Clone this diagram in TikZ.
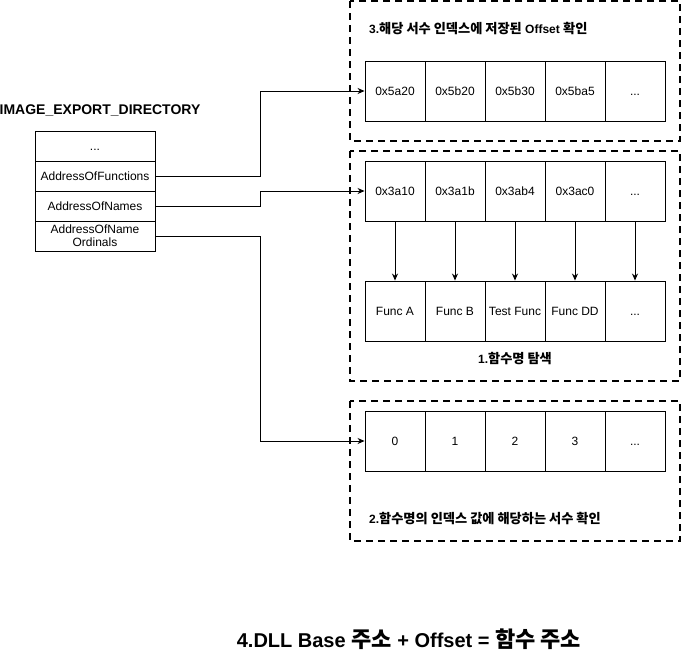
\documentclass[tikz,border=0pt]{standalone}
\usepackage{fontspec}
\setmainfont{Liberation Sans}
\newfontfamily\kr[Scale=1.1]{Noto Sans CJK KR}
\usetikzlibrary{arrows.meta}
\newcommand\mydots{...}
\begin{document}
\begin{tikzpicture}[x=1pt,y=-1pt,
  cell/.style={draw,line width=0.9pt,minimum width=60pt,minimum height=60pt,inner sep=0pt,text height=8.6pt,text depth=0pt,font=\fontsize{12}{14}\selectfont},
  lcell/.style={draw,line width=0.9pt,minimum width=120pt,minimum height=30pt,inner sep=0pt,align=center,font=\fontsize{12}{13}\selectfont},
  onel/.style={text height=8.6pt,text depth=0pt},
  dbox/.style={draw,line width=1.8pt,dash pattern=on 7pt off 5pt},
  conn/.style={line width=0.9pt,-{Stealth[length=7pt,width=6pt]}},
  lbl/.style={font=\fontsize{12}{14}\selectfont\bfseries,inner sep=0pt}]
\useasboundingbox (0,0) rectangle (681,654);
% dashed groups
\draw[dbox] (350,1) rectangle (680,141);
\draw[dbox] (350,151) rectangle (680,381);
\draw[dbox] (350,401) rectangle (680,541);
% left table
\node[lbl,font=\fontsize{14}{16}\selectfont\bfseries] (title) at (100,110) {IMAGE\_EXPORT\_DIRECTORY};
\node[lcell,onel] (l0) at (95,146) {\mydots};
\node[lcell,onel] (l1) at (95,176) {AddressOfFunctions};
\node[lcell,onel] (l2) at (95,206) {AddressOfNames};
\node[lcell] (l3) at (95,236) {AddressOfName\\Ordinals};
% rows
\foreach \t [count=\i] in {0x5a20,0x5b20,0x5b30,0x5ba5,\mydots}
  \node[cell] (a\i) at (335+60*\i,91) {\t};
\foreach \t [count=\i] in {0x3a10,0x3a1b,0x3ab4,0x3ac0,\mydots}
  \node[cell] (b\i) at (335+60*\i,191) {\t};
\foreach \t [count=\i] in {Func A,Func B,Test Func,Func DD,\mydots}
  \node[cell] (c\i) at (335+60*\i,311) {\t};
\foreach \t [count=\i] in {0,1,2,3,\mydots}
  \node[cell] (d\i) at (335+60*\i,441) {\t};
\foreach \i in {1,2,3,4,5}
  \draw[conn] (b\i.south) -- (c\i.north);
% connectors
\draw[conn] (l1.east) -- (260,176) -- (260,91) -- (a1.west);
\draw[conn] (l2.east) -- (260,206) -- (260,191) -- (b1.west);
\draw[conn] (l3.east) -- (260,236) -- (260,441) -- (d1.west);
% labels
\node[lbl,anchor=west] (t3) at (369,29) {3.{\kr 해당 서수 인덱스에 저장된} Offset {\kr 확인}};
\node[lbl] (t1) at (515,359) {1.{\kr 함수명 탐색}};
\node[lbl,anchor=west] (t2) at (369,519) {2.{\kr 함수명의 인덱스 값에 해당하는 서수 확인}};
\node[lbl,font=\fontsize{20}{24}\selectfont\bfseries] (t4) at (409,639) {4.DLL Base {\kr 주소} + Offset = {\kr 함수 주소}};
\end{tikzpicture}
\end{document}
